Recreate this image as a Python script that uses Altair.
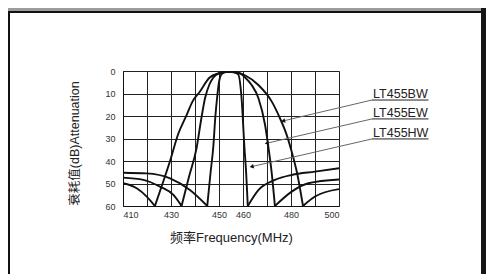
import altair as alt
import pandas as pd

# ---- data ----
bw_main_f = [423.3, 426.5, 429.6, 433.0, 436.5, 439.0, 442.0, 446.0, 450.0, 454.0, 458.0, 461.0, 466.4, 472.0, 475.4, 478.2, 480.3, 482.4, 485.0]
bw_main_db = [60, 50, 40, 28, 19.6, 13.5, 9.2, 3.0, 1.0, 0.3, 0.8, 2.0, 6.2, 13.6, 21.0, 28.4, 35.9, 44.7, 60]
ew_main_f = [434.4, 437.5, 440.7, 442.5, 444.2, 446.0, 447.6, 450.0, 454.0, 458.7, 461.0, 463.6, 466.4, 469.2, 470.6, 471.9, 473.3]
ew_main_db = [60, 47, 34, 22, 12, 6, 3, 1, 0.3, 1, 3, 6.2, 12, 24, 34, 44.7, 60]
hw_main_f = [445.1, 446.5, 447.6, 448.5, 449.2, 450.0, 451.0, 453.0, 456.0, 458.0, 459.4, 460.6, 461.3, 462.0]
hw_main_db = [60, 45, 34, 20, 12, 5, 1.5, 0.3, 0.5, 1.5, 12, 34, 45, 60]

bw_left_f = [410, 415.7, 419.9, 423.3]
bw_left_db = [49.9, 52.1, 55.8, 60]
ew_left_f = [410, 418.5, 425.4, 431.0, 434.4]
ew_left_db = [47.4, 48.4, 51.4, 55.1, 60]
hw_left_f = [410, 419.9, 429.6, 437.9, 445.1]
hw_left_db = [45.2, 45.5, 47.7, 52.9, 60]
hw_right_f = [462.0, 466.4, 473.3, 480.3, 490.0, 500.0]
hw_right_db = [60, 52.9, 48.4, 46.2, 44.7, 43.2]
ew_right_f = [473.3, 480.3, 487.2, 500.0]
ew_right_db = [60, 53.6, 49.9, 48.2]
bw_right_f = [485.0, 490.0, 500.0]
bw_right_db = [60, 55.8, 52.5]

models = ["LT455BW", "LT455EW", "LT455HW"]
label_f = [514.2, 514.2, 514.2]
label_db = [12.0, 20.4, 29.3]
underline_f = [513.75, 513.75, 513.75]
underline_f2 = [537.3, 537.3, 537.3]
underline_db = [12.9, 21.3, 30.2]
tip_f = [476.7, 469.9, 463.6]
tip_db = [22.2, 32.1, 42.5]

x_ticks = [410, 420, 430, 440, 450, 460, 470, 480, 490, 500]
x_hidden = [420, 440, 470, 490]
y_ticks = [0, 10, 20, 30, 40, 50, 60]

# ---- tables ----
segs = [
    ("bw_main", bw_main_f, bw_main_db), ("ew_main", ew_main_f, ew_main_db),
    ("hw_main", hw_main_f, hw_main_db), ("bw_left", bw_left_f, bw_left_db),
    ("ew_left", ew_left_f, ew_left_db), ("hw_left", hw_left_f, hw_left_db),
    ("hw_right", hw_right_f, hw_right_db), ("ew_right", ew_right_f, ew_right_db),
    ("bw_right", bw_right_f, bw_right_db),
]
rows = []
for name, fs, ds in segs:
    for f, d in zip(fs, ds):
        rows.append({"seg": name, "f": f, "db": d})
curves = pd.DataFrame(rows)

ann = pd.DataFrame({
    "model": models, "lf": label_f, "ldb": label_db,
    "uf": underline_f, "uf2": underline_f2, "udb": underline_db,
    "tf": tip_f, "tdb": tip_db,
})

LAT = "Liberation Sans, Noto Sans CJK SC"
xs = alt.Scale(domain=[410, 500], nice=False, zero=False)
ys = alt.Scale(domain=[0, 60], reverse=True, nice=False, zero=False)

expr_hidden = "indexof([" + ",".join(str(v) for v in x_hidden) + "], datum.value) >= 0 ? '' : datum.label"

x_axis = alt.Axis(
    values=x_ticks, labelExpr=expr_hidden, grid=True, gridColor="#222", gridWidth=1,
    ticks=False, domainColor="#111", labelFontSize=9, labelColor="#333", labelFont=LAT,
    labelPadding=4, labelOverlap=False, title="频率Frequency(MHz)", titleFont=LAT,
    titleFontSize=13, titleFontWeight="normal", titleColor="#222", titleX=108, titleY=31,
    titleBaseline="middle", titleAnchor="middle")
y_axis = alt.Axis(
    values=y_ticks, grid=True, gridColor="#222", gridWidth=1, ticks=False,
    domainColor="#111", labelFontSize=9, labelColor="#333", labelFont=LAT,
    labelPadding=8, labelOverlap=False, title="衰耗值(dB)Attenuation", titleFont=LAT,
    titleFontSize=12.5, titleFontWeight="normal", titleColor="#222", titleX=-49, titleY=72,
    titleAngle=-90, titleBaseline="middle", titleAlign="center")

lines = alt.Chart(curves).mark_line(
    color="#111", strokeWidth=1.9, interpolate="monotone", clip=True
).encode(
    x=alt.X("f:Q", scale=xs, axis=x_axis),
    y=alt.Y("db:Q", scale=ys, axis=y_axis),
    detail="seg:N",
)

leaders = alt.Chart(ann).mark_rule(color="#666", strokeWidth=1).encode(
    x=alt.X("uf:Q", scale=xs, axis=x_axis), y=alt.Y("udb:Q", scale=ys, axis=y_axis),
    x2="tf:Q", y2="tdb:Q",
)
underlines = alt.Chart(ann).mark_rule(color="#222", strokeWidth=1).encode(
    x=alt.X("uf:Q", scale=xs, axis=x_axis), x2="uf2:Q",
    y=alt.Y("udb:Q", scale=ys, axis=y_axis),
)
labels = alt.Chart(ann).mark_text(
    align="left", baseline="alphabetic", fontSize=12.5, font=LAT, color="#222"
).encode(x=alt.X("lf:Q", scale=xs, axis=x_axis), y=alt.Y("ldb:Q", scale=ys, axis=y_axis),
         text="model:N")
arrows = alt.Chart(ann).mark_point(
    shape="triangle-right", angle=167, size=22, filled=True, color="#111", opacity=1
).encode(x=alt.X("tf:Q", scale=xs, axis=x_axis), y=alt.Y("tdb:Q", scale=ys, axis=y_axis))

one = pd.DataFrame({"k": [0]})
header = alt.Chart(one).mark_rect(color="#9c9c9c").encode(
    x=alt.value(-115), x2=alt.value(358), y=alt.value(-63), y2=alt.value(-59.5))
top_line = alt.Chart(one).mark_rule(color="#111", strokeWidth=2).encode(
    x=alt.value(-115), x2=alt.value(358), y=alt.value(-59))
left_line = alt.Chart(one).mark_rule(color="#111", strokeWidth=2).encode(
    x=alt.value(-114), y=alt.value(-59), y2=alt.value(203))
right_band = alt.Chart(one).mark_rect(color="#161616").encode(
    x=alt.value(358), x2=alt.value(363), y=alt.value(-63), y2=alt.value(203))

chart = alt.layer(
    lines, leaders, underlines, labels, arrows, header, top_line, left_line, right_band
).properties(
    width=216, height=135,
    autosize=alt.AutoSizeParams(type="none"),
    padding={"left": 115, "top": 63, "right": 147, "bottom": 68},
).configure_view(stroke="#111", strokeWidth=1).configure(background="white")

chart.save("out.html", embed_options={"renderer": "svg", "actions": False})
